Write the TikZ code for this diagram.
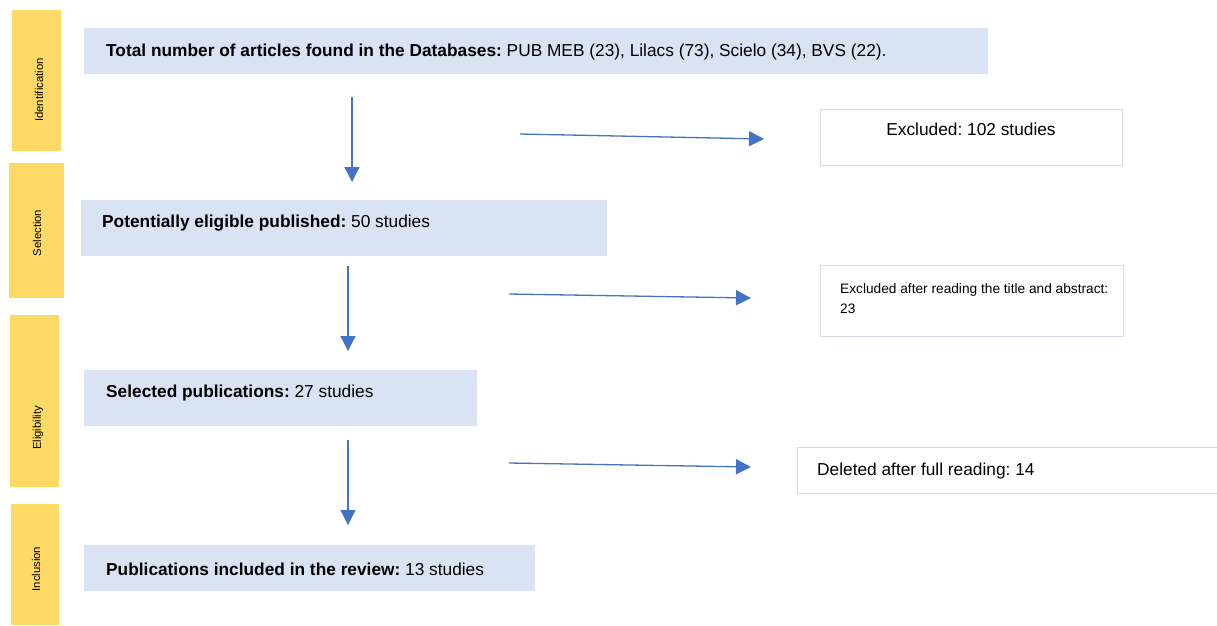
\documentclass[tikz,border=0pt]{standalone}
\usepackage{fontspec}
\setmainfont{Liberation Sans}
\usetikzlibrary{arrows.meta}
\definecolor{ybox}{HTML}{FFD966}
\definecolor{bbox}{HTML}{DAE3F3}
\definecolor{wline}{HTML}{D3DAEA}
\definecolor{arr}{HTML}{4472C4}
\tikzset{
  side/.style={fill=ybox, draw=none, anchor=north west, inner sep=0pt},
  sidetext/.style={rotate=90, font=\fontsize{11.3}{12}\selectfont, inner sep=0pt},
  bluebox/.style={fill=bbox, draw=none, anchor=north west, inner sep=0pt},
  whitebox/.style={fill=white, draw=wline, line width=1.4pt, anchor=north west, inner sep=0pt},
  maintext/.style={anchor=west, inner sep=0pt, font=\fontsize{17.3}{20}\selectfont},
  smalltext/.style={anchor=north west, inner sep=0pt, align=left, font=\fontsize{13.7}{20}\selectfont},
  flow/.style={draw=arr, line width=1.3pt, -{Triangle[length=15pt,width=15pt]}}
}
\begin{document}
\frenchspacing
\begin{tikzpicture}[x=1pt,y=-1pt]
\useasboundingbox (0,0) rectangle (1217,625);
% side bars
\node[side, minimum width=49pt, minimum height=141pt] (s1) at (12,10) {};
\node[side, minimum width=55pt, minimum height=135pt] (s2) at (9,163) {};
\node[side, minimum width=49pt, minimum height=172pt] (s3) at (10,315) {};
\node[side, minimum width=48pt, minimum height=121pt] (s4) at (11,504) {};
\node[sidetext] (l1) at (39,90) {Identification};
\node[sidetext] (l2) at (37,233) {Selection};
\node[sidetext] (l3) at (38,428) {Eligibility};
\node[sidetext] (l4) at (36,569) {Inclusion};
% blue boxes
\node[bluebox, minimum width=904pt, minimum height=46pt] (b1) at (84,28) {};
\node[bluebox, minimum width=526pt, minimum height=56pt] (b2) at (81,200) {};
\node[bluebox, minimum width=393pt, minimum height=56pt] (b3) at (84,370) {};
\node[bluebox, minimum width=451pt, minimum height=46pt] (b4) at (84,545) {};
\node[maintext] (t1) at (106,52) {\textbf{Total number of articles found in the Databases:} PUB MEB (23), Lilacs (73), Scielo (34), BVS (22).};
\node[maintext] (t2) at (102,223) {\textbf{Potentially eligible published:} 50 studies};
\node[maintext] (t3) at (106,393) {\textbf{Selected publications:} 27 studies};
\node[maintext] (t4) at (106,569) {\textbf{Publications included in the review:} 13 studies};
% white boxes
\node[whitebox, minimum width=302pt, minimum height=56pt] (w1) at (820,109) {};
\node[whitebox, minimum width=303pt, minimum height=71pt] (w2) at (820,265) {};
\node[whitebox, minimum width=430pt, minimum height=46pt] (w3) at (797,447) {};
\node[maintext, anchor=center] (e1) at (971,129) {Excluded: 102 studies};
\node[smalltext] (e2) at (840,283) {Excluded after reading the title and abstract:\\23};
\node[maintext] (e3) at (817,471) {Deleted after full reading: 14};
% arrows
\coordinate (v1a) at (352,97);  \coordinate (v1b) at (352,182);
\coordinate (v2a) at (348,266); \coordinate (v2b) at (348,351);
\coordinate (v3a) at (348,440); \coordinate (v3b) at (348,525);
\coordinate (h1a) at (520,134); \coordinate (h1b) at (764,139);
\coordinate (h2a) at (509,294); \coordinate (h2b) at (751,298);
\coordinate (h3a) at (509,463); \coordinate (h3b) at (751,467);
\draw[flow] (v1a) -- (v1b);
\draw[flow] (v2a) -- (v2b);
\draw[flow] (v3a) -- (v3b);
\draw[flow] (h1a) -- (h1b);
\draw[flow] (h2a) -- (h2b);
\draw[flow] (h3a) -- (h3b);
\end{tikzpicture}
\end{document}
